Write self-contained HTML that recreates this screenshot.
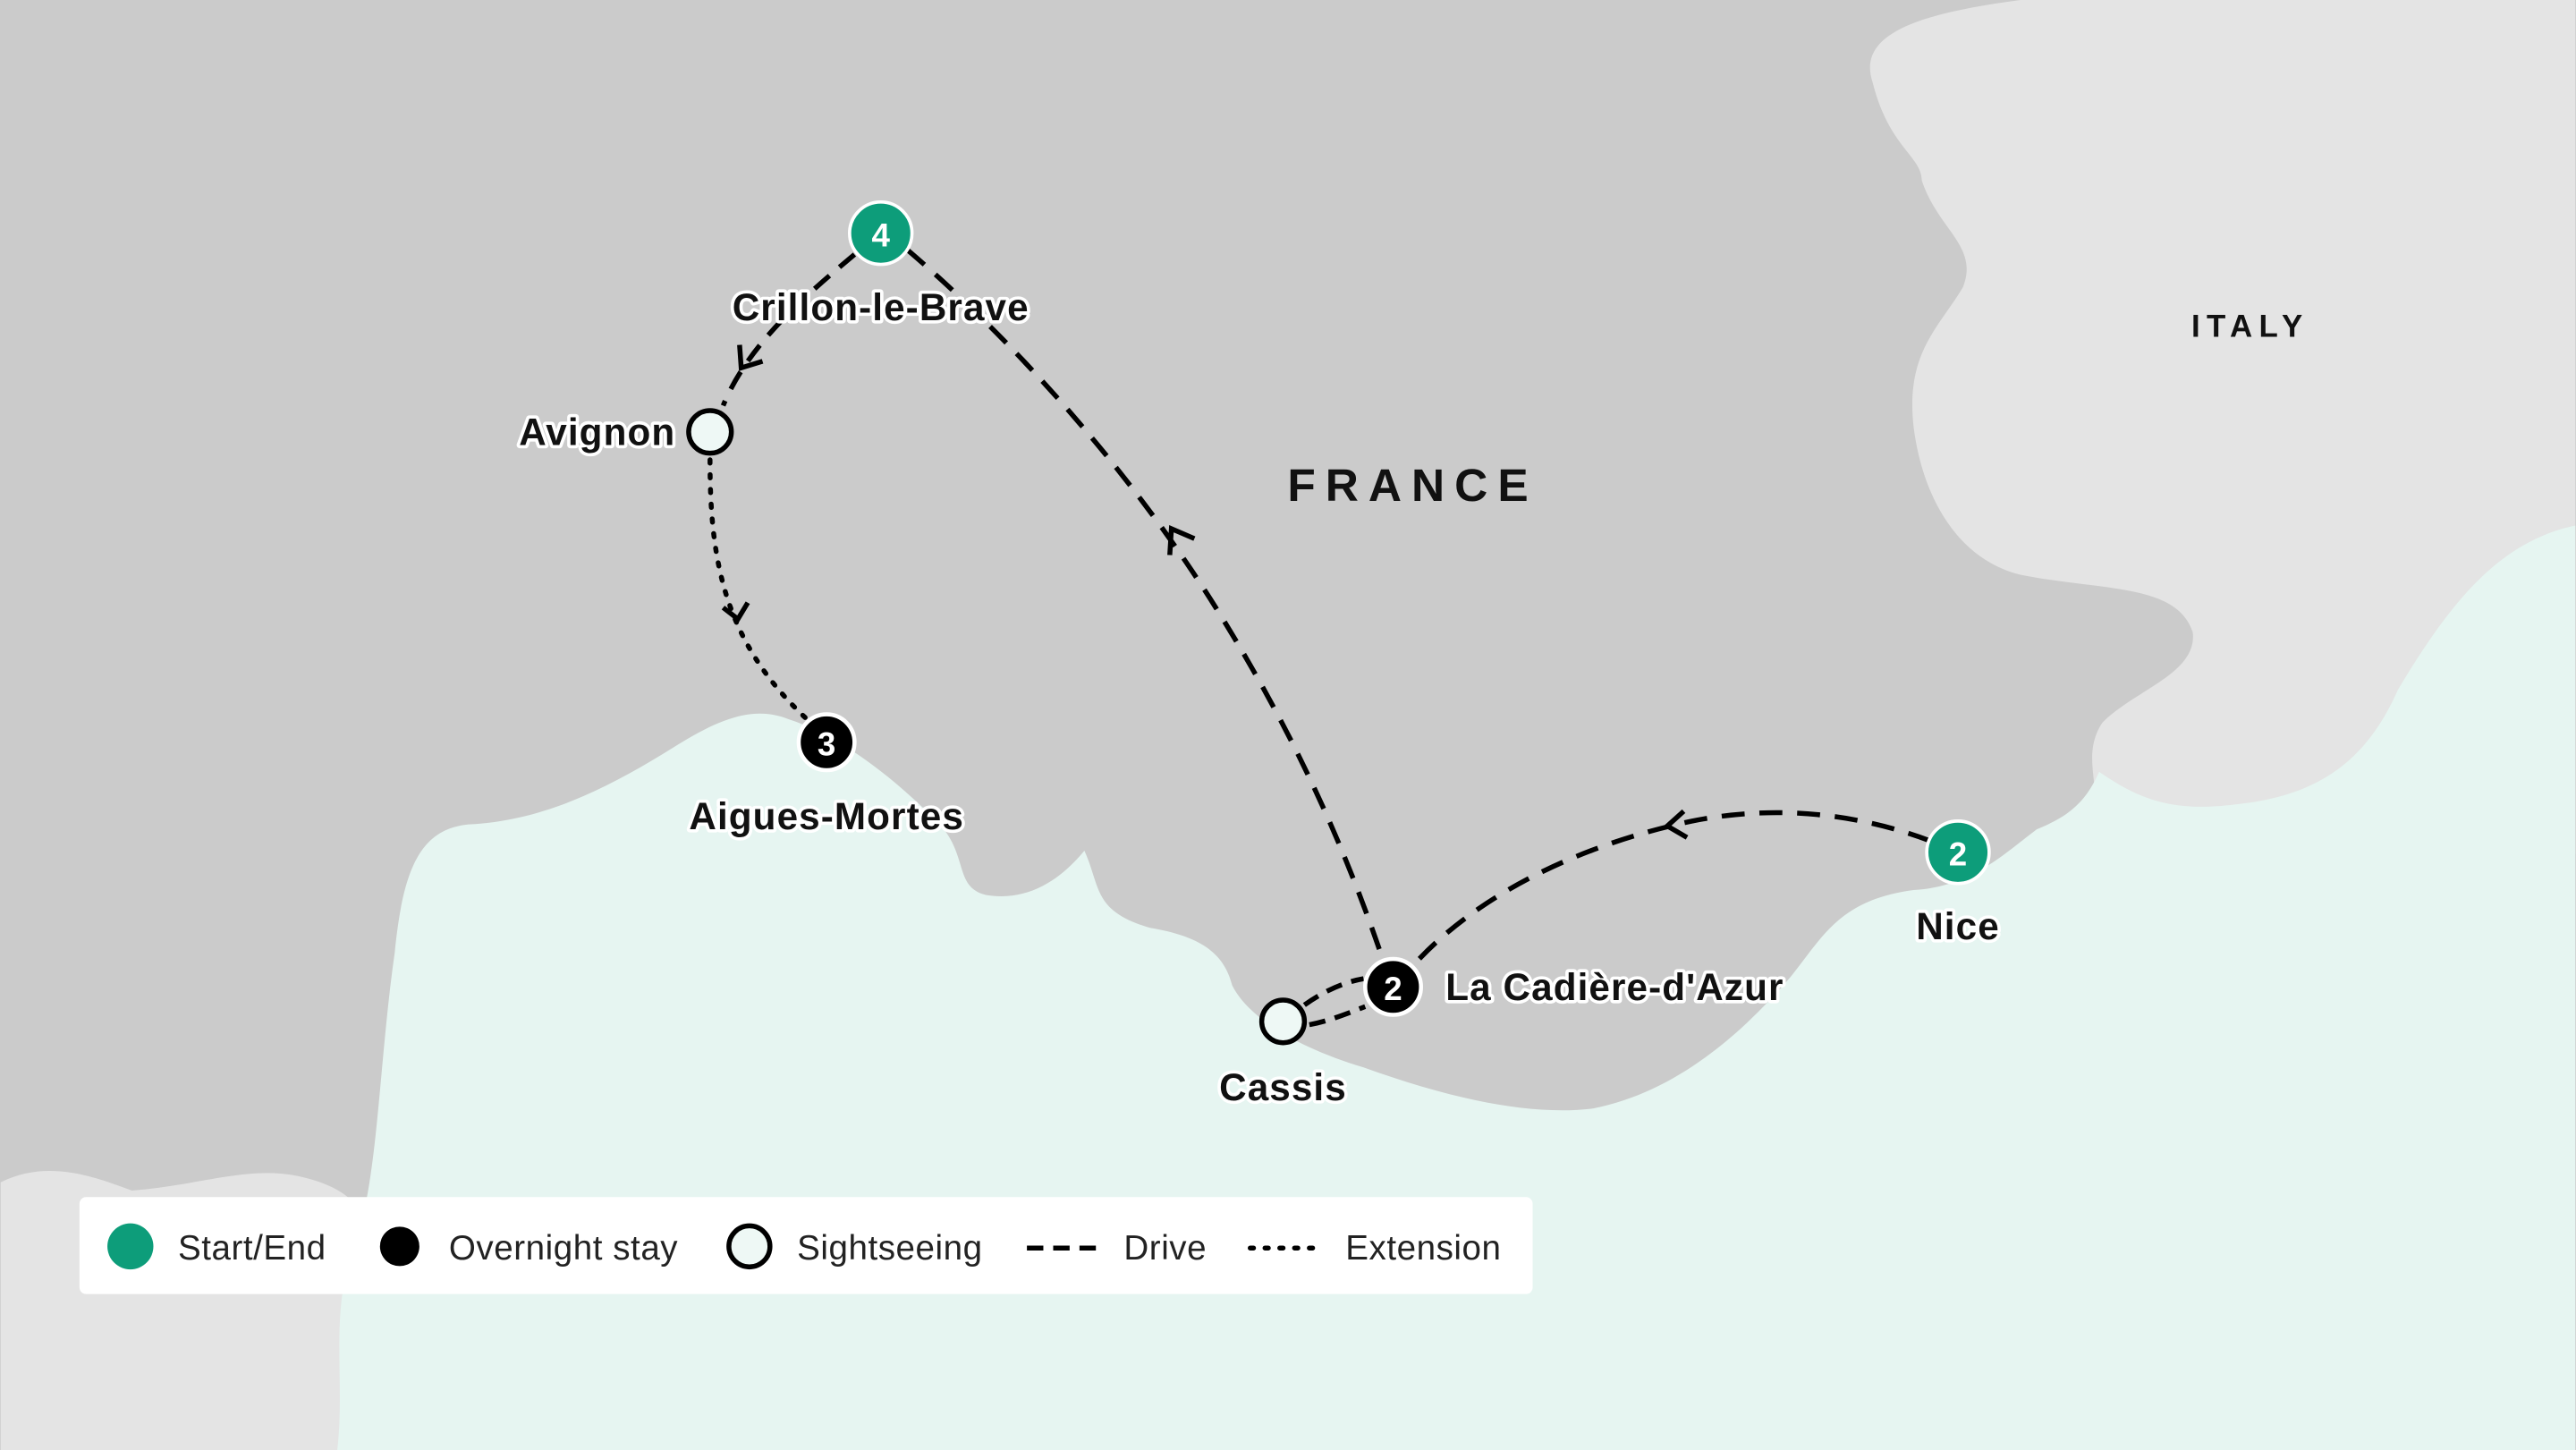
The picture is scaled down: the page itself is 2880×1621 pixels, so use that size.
<!DOCTYPE html>
<html><head><meta charset="utf-8"><style>
html,body{margin:0;padding:0;background:#cbcbcb;}
svg{display:block;}
text{font-family:"Liberation Sans",sans-serif;}
.lbl{font-weight:bold;font-size:23px;letter-spacing:0.6px;fill:#111;stroke:#fff;stroke-width:4px;paint-order:stroke;stroke-linejoin:round;}
.leg{font-size:21px;fill:#222;letter-spacing:0.3px;}
</style></head><body>
<svg width="2880" height="1621" viewBox="0 0 1568 883" xmlns="http://www.w3.org/2000/svg">
<rect width="1568" height="883" fill="#cbcbcb"/>
<path d="M1230,0 C1170,8 1130,20 1140,50 C1150,90 1170,95 1170,110 C1180,140 1205,150 1195,175 C1180,200 1160,215 1165,260 C1170,300 1190,340 1230,350 C1280,360 1325,355 1335,385 C1338,410 1300,420 1280,440 C1270,455 1275,470 1275,480 L1275,520 L1568,520 L1568,0 Z" fill="#e4e4e4"/>
<path d="M0,720 C30,705 60,718 80,725 C120,722 150,710 180,716 C200,720 215,728 220,740 L215,883 L0,883 Z" fill="#e4e4e4"/>
<path d="M205,883 C210,840 200,800 215,760 C230,720 230,650 240,580 C245,530 255,505 285,502 C330,500 370,480 410,455 C440,436 460,430 480,438 C510,448 540,470 570,500 C590,520 580,540 600,545 C630,550 650,530 660,518 C670,540 665,555 700,565 C730,570 745,580 750,600 C760,620 790,638 830,650 C880,668 930,680 970,675 C1020,665 1060,630 1090,595 C1110,570 1120,548 1165,542 C1200,540 1220,520 1240,505 C1260,497 1270,488 1278,470 C1300,485 1320,495 1360,490 C1410,485 1440,465 1460,420 C1490,370 1520,330 1568,320 L1568,883 Z" fill="#e6f5f1"/>
<text x="860" y="305" text-anchor="middle" font-weight="bold" font-size="28" letter-spacing="6" fill="#111">FRANCE</text>
<text x="1370" y="205" text-anchor="middle" font-weight="bold" font-size="19" letter-spacing="4" fill="#111">ITALY</text>
<g fill="none" stroke="#000" stroke-width="3">
<path d="M520,155 C490,180 455,210 440,247" stroke-dasharray="12,8"/>
<path d="M552,152 C620,210 690,290 740,370 C790,450 820,520 842,585" stroke-dasharray="14,9"/>
<path d="M432,280 C432,340 440,390 490,437" stroke-dasharray="2,7" stroke-linecap="round"/>
<path d="M794,612 C805,604 818,598 830,596" stroke-dasharray="10,6"/>
<path d="M797,624 C808,622 818,618 831,613" stroke-dasharray="10,6"/>
<path d="M1175,512 C1130,495 1080,490 1030,500 C960,515 900,545 862,586" stroke-dasharray="14,9"/>
<path d="M450,210 L451,224 L464,220"/>
<path d="M712,338 L713,322 L727,328"/>
<path d="M440,370 L449,377 L455,367"/>
<path d="M1025,494 L1015,503 L1027,510"/>
</g>
<circle cx="536" cy="142" r="19" fill="#0d9d7a" stroke="#fff" stroke-width="2"/>
<text x="536" y="150" text-anchor="middle" font-size="20" font-weight="bold" fill="#fff">4</text>
<circle cx="1192" cy="519" r="19" fill="#0d9d7a" stroke="#fff" stroke-width="2"/>
<text x="1192" y="527" text-anchor="middle" font-size="20" font-weight="bold" fill="#fff">2</text>
<circle cx="503" cy="452" r="17" fill="#000" stroke="#fff" stroke-width="2.5"/>
<text x="503" y="460" text-anchor="middle" font-size="20" font-weight="bold" fill="#fff">3</text>
<circle cx="848" cy="601" r="17" fill="#000" stroke="#fff" stroke-width="2.5"/>
<text x="848" y="609" text-anchor="middle" font-size="20" font-weight="bold" fill="#fff">2</text>
<circle cx="432" cy="263" r="13" fill="#eef8f5" stroke="#000" stroke-width="3"/>
<circle cx="781" cy="622" r="13" fill="#eef8f5" stroke="#000" stroke-width="3"/>
<text class="lbl" x="536" y="195" text-anchor="middle">Crillon-le-Brave</text>
<text class="lbl" x="411" y="271" text-anchor="end">Avignon</text>
<text class="lbl" x="503" y="505" text-anchor="middle">Aigues-Mortes</text>
<text class="lbl" x="880" y="609">La Cadière-d'Azur</text>
<text class="lbl" x="1192" y="572" text-anchor="middle">Nice</text>
<text class="lbl" x="781" y="670" text-anchor="middle">Cassis</text>
<rect x="48" y="729" width="885" height="59" rx="4" fill="#fff"/>
<circle cx="79" cy="759" r="14" fill="#0d9d7a"/>
<text class="leg" x="108" y="767">Start/End</text>
<circle cx="243" cy="759" r="12" fill="#000"/>
<text class="leg" x="273" y="767">Overnight stay</text>
<circle cx="456" cy="759" r="12.5" fill="#eef8f5" stroke="#000" stroke-width="3"/>
<text class="leg" x="485" y="767">Sightseeing</text>
<line x1="625" y1="760" x2="669" y2="760" stroke="#000" stroke-width="3" stroke-dasharray="10,6"/>
<text class="leg" x="684" y="767">Drive</text>
<line x1="761" y1="760" x2="805" y2="760" stroke="#000" stroke-width="3" stroke-dasharray="2,7" stroke-linecap="round"/>
<text class="leg" x="819" y="767">Extension</text>
</svg>
</body></html>
